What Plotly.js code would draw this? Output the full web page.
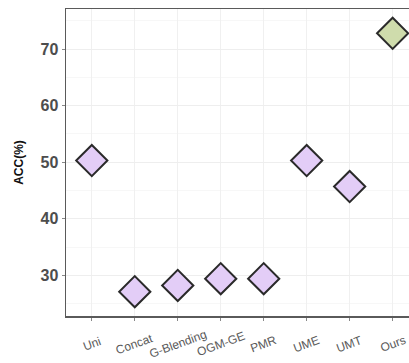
<!DOCTYPE html>
<html>
<head>
<meta charset="utf-8">
<script src="https://cdn.plot.ly/plotly-3.0.1.min.js"></script>
<style>
html,body{margin:0;padding:0;overflow:hidden;background:#fff;width:409px;height:363px;}
#chart{width:420px;height:363px;}
</style>
</head>
<body>
<div id="chart"></div>
<script>
const methods = ["Uni","Concat","G-Blending","OGM-GE","PMR","UME","UMT","Ours"];
const acc = [50.3, 27.1, 28.2, 29.4, 29.4, 50.3, 45.7, 72.8];
const isOurs = [false,false,false,false,false,false,false,true];
const yTicks = [30,40,50,60,70];

const fillColors = isOurs.map(o => o ? "#cfdcac" : "#e3cdf7");

const trace = {
  type: "scatter",
  mode: "markers",
  x: methods,
  y: acc,
  marker: {
    symbol: "diamond",
    size: 24,
    color: fillColors,
    line: {color: "#2a2a2a", width: 2}
  },
  hoverinfo: "x+y",
  cliponaxis: false
};

const annotations = methods.map(m => ({
  x: m, xref: "x",
  y: 0, yref: "paper",
  yshift: -28,
  text: m,
  showarrow: false,
  textangle: -20,
  xanchor: "center", yanchor: "middle",
  font: {family: "Liberation Sans, Arial, sans-serif", size: 12, color: "#5a5a5a"}
}));

const layout = {
  width: 420, height: 363,
  margin: {l: 66, r: 2, t: 9, b: 47},
  paper_bgcolor: "#ffffff",
  plot_bgcolor: "#ffffff",
  showlegend: false,
  xaxis: {
    type: "category",
    range: [-0.6, 7.59],
    showticklabels: false,
    ticks: "outside", ticklen: 3, tickcolor: "#888", tickwidth: 1,
    showgrid: true, gridcolor: "#f0f0f0", gridwidth: 1,
    showline: true, linecolor: "#5a5a5a", linewidth: 1.5, mirror: true,
    zeroline: false
  },
  yaxis: {
    range: [22.8, 77.1],
    tickvals: yTicks,
    ticktext: yTicks.map(String),
    ticks: "outside", ticklen: 3, tickcolor: "#888",
    tickfont: {family: "Liberation Sans, Arial, sans-serif", size: 16, color: "#4d4d4d", weight: "bold"},
    showgrid: true, gridcolor: "#eeeeee", gridwidth: 1,
    minor: {dtick: 5, showgrid: true, gridcolor: "#f7f7f7"},
    showline: true, linecolor: "#5a5a5a", linewidth: 1.5, mirror: true,
    zeroline: false,
    title: {text: "<b>ACC(%)</b>", standoff: 14,
            font: {family: "Liberation Sans, Arial, sans-serif", size: 12, color: "#111"}}
  },
  annotations: annotations
};

Plotly.newPlot("chart", [trace], layout, {displayModeBar: false, staticPlot: true});
</script>
</body>
</html>
